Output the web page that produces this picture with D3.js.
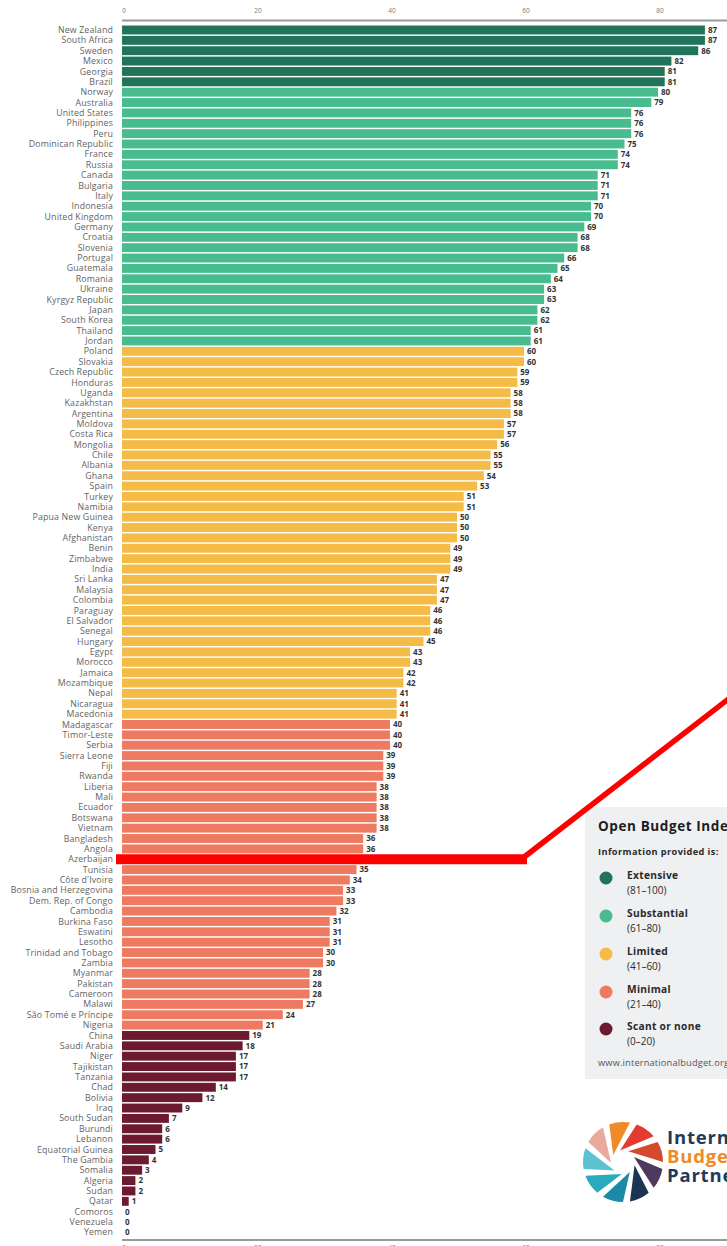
<!DOCTYPE html>
<html>
<head>
<meta charset="utf-8">
<title>Open Budget Index</title>
<script src="https://d3js.org/d3.v7.min.js"></script>
<style>
  body { margin: 0; background: #fff; }
  svg { display: block; font-family: "Open Sans", "Noto Sans", sans-serif; }
</style>
</head>
<body>
<div id="chart"></div>
<script>
const countries = ["New Zealand","South Africa","Sweden","Mexico","Georgia","Brazil","Norway","Australia","United States","Philippines","Peru","Dominican Republic","France","Russia","Canada","Bulgaria","Italy","Indonesia","United Kingdom","Germany","Croatia","Slovenia","Portugal","Guatemala","Romania","Ukraine","Kyrgyz Republic","Japan","South Korea","Thailand","Jordan","Poland","Slovakia","Czech Republic","Honduras","Uganda","Kazakhstan","Argentina","Moldova","Costa Rica","Mongolia","Chile","Albania","Ghana","Spain","Turkey","Namibia","Papua New Guinea","Kenya","Afghanistan","Benin","Zimbabwe","India","Sri Lanka","Malaysia","Colombia","Paraguay","El Salvador","Senegal","Hungary","Egypt","Morocco","Jamaica","Mozambique","Nepal","Nicaragua","Macedonia","Madagascar","Timor-Leste","Serbia","Sierra Leone","Fiji","Rwanda","Liberia","Mali","Ecuador","Botswana","Vietnam","Bangladesh","Angola","Azerbaijan","Tunisia","Côte d'Ivoire","Bosnia and Herzegovina","Dem. Rep. of Congo","Cambodia","Burkina Faso","Eswatini","Lesotho","Trinidad and Tobago","Zambia","Myanmar","Pakistan","Cameroon","Malawi","São Tomé e Príncipe","Nigeria","China","Saudi Arabia","Niger","Tajikistan","Tanzania","Chad","Bolivia","Iraq","South Sudan","Burundi","Lebanon","Equatorial Guinea","The Gambia","Somalia","Algeria","Sudan","Qatar","Comoros","Venezuela","Yemen"];

const scores = [87,87,86,82,81,81,80,79,76,76,76,75,74,74,71,71,71,70,70,69,68,68,66,65,64,63,63,62,62,61,61,60,60,59,59,58,58,58,57,57,56,55,55,54,53,51,51,50,50,50,49,49,49,47,47,47,46,46,46,45,43,43,42,42,41,41,41,40,40,40,39,39,39,38,38,38,38,38,36,36,35,35,34,33,33,32,31,31,31,30,30,28,28,28,27,24,21,19,18,17,17,17,14,12,9,7,6,6,5,4,3,2,2,1,0,0,0];

const xTicks = [0, 20, 40, 60, 80];

const groupNames = ["Extensive", "Substantial", "Limited", "Minimal", "Scant or none"];
const groupRanges = ["(81–100)", "(61–80)", "(41–60)", "(21–40)", "(0–20)"];
const groupColors = ["#21735a", "#48bc8f", "#f4bb46", "#ed7a61", "#6b1a2f"];

const logoColors = ["#e9aa9e", "#f08a26", "#e23b30", "#d44a2d", "#4d3a5c", "#1c3454", "#1a8aa6", "#2aaabf", "#5cc1d1"];

const width = 727, height = 1246;
const svg = d3.select("#chart").append("svg")
    .attr("width", width)
    .attr("height", height);

const x = d3.scaleLinear().domain([0, 100]).range([122, 792]);
const y = d3.scaleBand().domain(countries).range([24.8, 1237.6]).paddingInner(0.14).paddingOuter(0.07);

const color = d3.scaleThreshold().domain([20.5, 40.5, 60.5, 80.5])
    .range(groupColors.slice().reverse());

// axes top and bottom
[[13, 20.5], [1250, 1240]].forEach(([ly, lineY]) => {
  const g = svg.append("g");
  g.append("line")
    .attr("x1", x(0)).attr("x2", width)
    .attr("y1", lineY).attr("y2", lineY)
    .attr("stroke", "#9a9a9a").attr("stroke-width", 2);
  g.selectAll("text").data(xTicks).join("text")
    .attr("x", d => x(d) + 2)
    .attr("y", ly)
    .attr("text-anchor", "middle")
    .attr("font-size", 6.5)
    .attr("fill", "#777")
    .text(d => d);
});

// bars
svg.selectAll(".bar")
  .data(countries)
  .join("rect")
    .attr("class", "bar")
    .attr("x", x(0))
    .attr("y", d => y(d))
    .attr("width", (d, i) => x(scores[i]) - x(0))
    .attr("height", y.bandwidth())
    .attr("fill", (d, i) => color(scores[i]));

// country labels
svg.selectAll(".name")
  .data(countries)
  .join("text")
    .attr("class", "name")
    .attr("x", 113)
    .attr("y", d => y(d) + y.bandwidth() / 2)
    .attr("dy", "0.35em")
    .attr("text-anchor", "end")
    .attr("font-size", 8.8)
    .attr("letter-spacing", 0.15)
    .attr("fill", "#636363")
    .text(d => d);

// value labels
svg.selectAll(".val")
  .data(countries)
  .join("text")
    .attr("class", "val")
    .attr("x", (d, i) => x(scores[i]) + 3)
    .attr("y", d => y(d) + y.bandwidth() / 2)
    .attr("dy", "0.36em")
    .attr("font-size", 8)
    .attr("font-weight", "bold")
    .attr("fill", "#333")
    .text((d, i) => scores[i]);

// legend box
const lg = svg.append("g");
lg.append("rect")
  .attr("x", 585).attr("y", 807).attr("width", 160).attr("height", 272)
  .attr("fill", "#eef0f2");
lg.append("text")
  .attr("x", 598).attr("y", 831)
  .attr("font-size", 13.5).attr("font-weight", "bold").attr("fill", "#1d1d1d")
  .attr("letter-spacing", 0.6)
  .text("Open Budget Index 2017");
lg.append("text")
  .attr("x", 598).attr("y", 855)
  .attr("font-size", 9.2).attr("font-weight", "bold").attr("fill", "#2a2a2a")
  .attr("letter-spacing", 0.4)
  .text("Information provided is:");
const itemY = [878, 916, 954, 992, 1029];
groupNames.forEach((name, i) => {
  lg.append("circle")
    .attr("cx", 606).attr("cy", itemY[i]).attr("r", 6.5)
    .attr("fill", groupColors[i]);
  lg.append("text")
    .attr("x", 627).attr("y", itemY[i] + 1)
    .attr("font-size", 10.2).attr("font-weight", "bold").attr("fill", "#2a2a2a")
    .attr("letter-spacing", 0.3)
    .text(name);
  lg.append("text")
    .attr("x", 627).attr("y", itemY[i] + 15.5)
    .attr("font-size", 10).attr("fill", "#2a2a2a")
    .text(groupRanges[i]);
});
lg.append("text")
  .attr("x", 598).attr("y", 1066)
  .attr("font-size", 9.2).attr("fill", "#555")
  .attr("letter-spacing", 0.2)
  .text("www.internationalbudget.org");

// logo
const logo = svg.append("g").attr("transform", "translate(623,1162)");
logoColors.forEach((c, i) => {
  const a0 = (i * 40 - 150) * Math.PI / 180;
  const a1 = a0 + 30 * Math.PI / 180;
  const r0 = 12, r1 = 40;
  const inner = [Math.cos(a0 - 0.6) * r0, Math.sin(a0 - 0.6) * r0];
  const p1 = [Math.cos(a0) * r1, Math.sin(a0) * r1];
  const p2 = [Math.cos(a1) * r1, Math.sin(a1) * r1];
  logo.append("path")
    .attr("d", `M${inner}L${p1}A${r1},${r1} 0 0 1 ${p2}Z`)
    .attr("fill", c);
});
const logoText = [["International", "#1f3a5f", 1144], ["Budget", "#f08a26", 1163], ["Partnership", "#1f3a5f", 1182]];
logoText.forEach(([t, c, ty]) => {
  svg.append("text")
    .attr("x", 667).attr("y", ty)
    .attr("font-size", 18.5).attr("font-weight", "bold").attr("fill", c)
    .attr("letter-spacing", 0.8)
    .text(t);
});

// red annotation
const az = y("Azerbaijan") + y.bandwidth() / 2;
svg.append("line")
  .attr("x1", 116).attr("x2", 527).attr("y1", az).attr("y2", az)
  .attr("stroke", "#ff0000").attr("stroke-width", 10);
svg.append("line")
  .attr("x1", 520).attr("y1", az + 1).attr("x2", 732).attr("y2", az - 163)
  .attr("stroke", "#ff0000").attr("stroke-width", 5.5);
</script>
</body>
</html>
